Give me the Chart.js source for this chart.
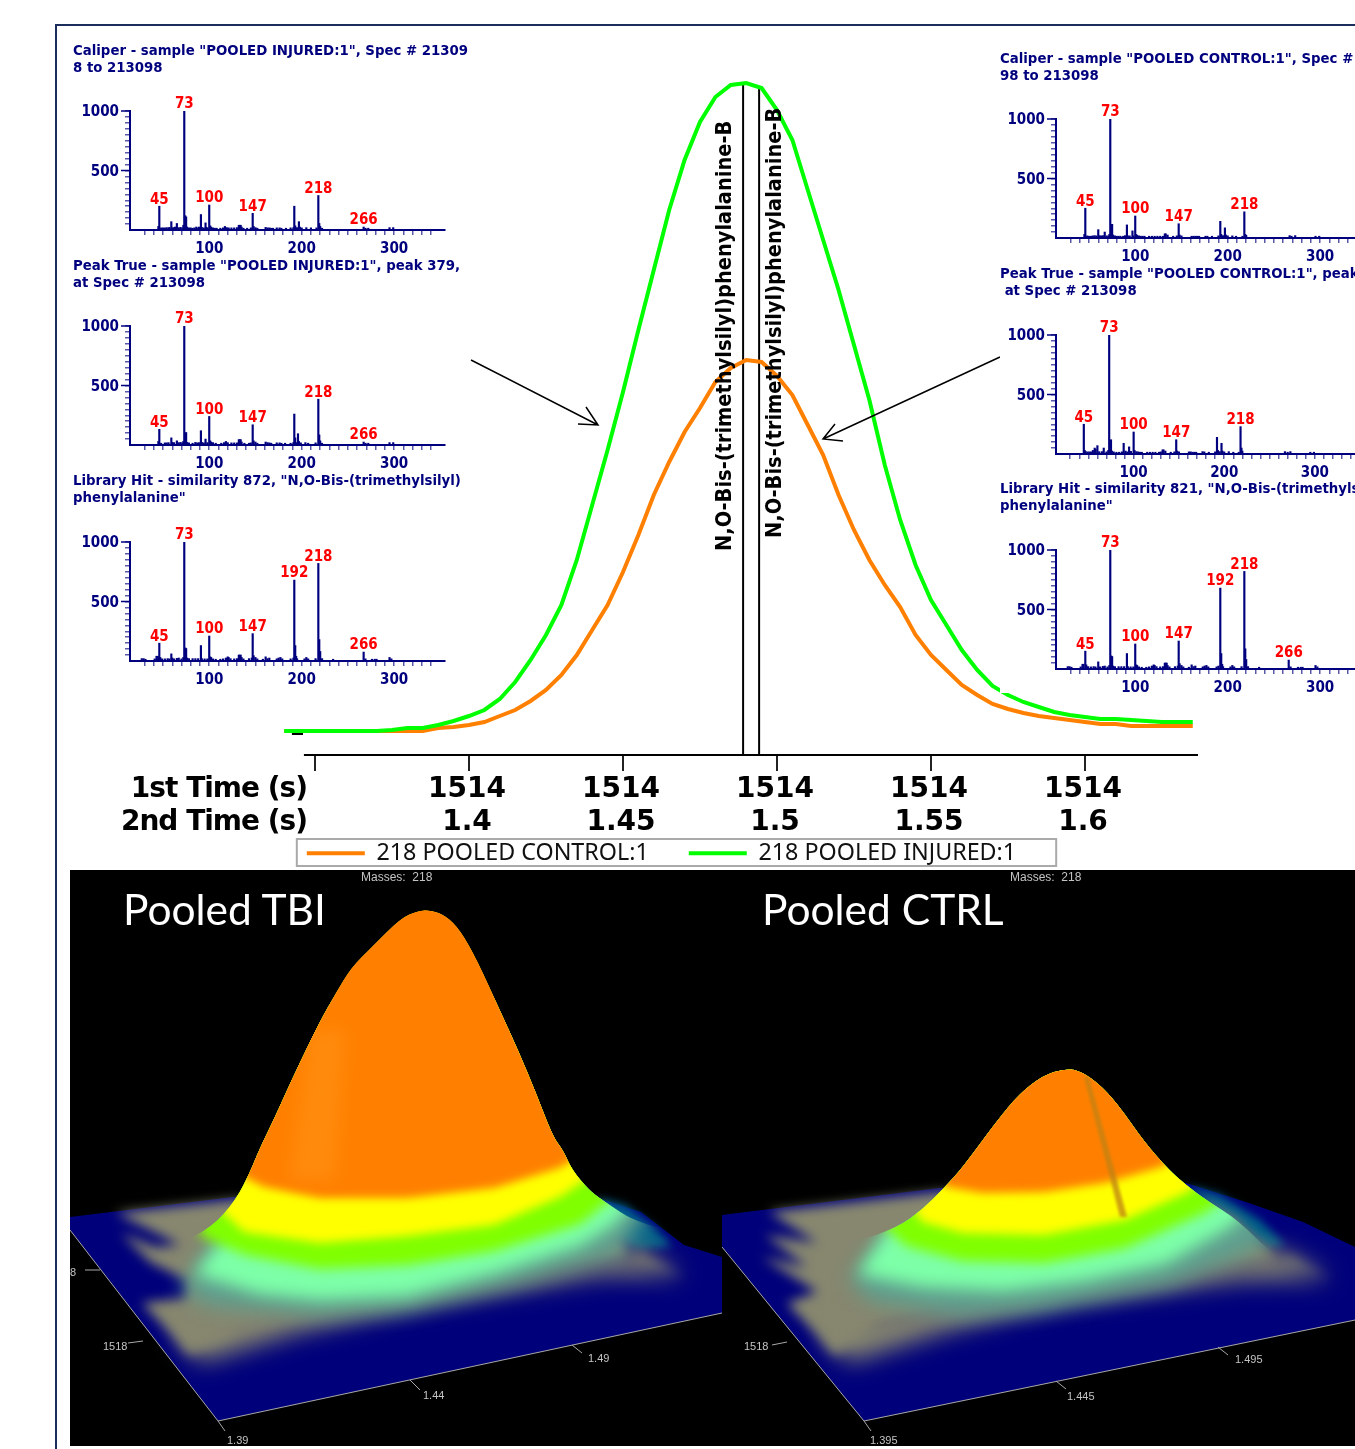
<!DOCTYPE html>
<html>
<head>
<meta charset="utf-8">
<title>N,O-Bis-(trimethylsilyl)phenylalanine peak</title>
<script src="https://cdn.jsdelivr.net/npm/chart.js@4"></script>
<style>
html, body { margin: 0; padding: 0; background: #fff; }
#page { position: relative; width: 1355px; height: 1449px; overflow: hidden; background: #fff; }
#page canvas { position: absolute; }
.frame { position: absolute; background: #1b2d5b; }
.title { position: absolute; white-space: nowrap; color: #00007f; font: bold 14.8px/17px 'DejaVu Sans Condensed', 'DejaVu Sans', sans-serif; }
.time { position: absolute; right: 1048px; white-space: nowrap; color: #000; font: bold 28px/33px 'DejaVu Sans', sans-serif; letter-spacing: -1px; }
.surfaceName { position: absolute; color: #fff; font: 42.5px/50px Lato, sans-serif; white-space: nowrap; }
.surfaceText { position: absolute; color: #c4c4c4; font: 11px/13px 'Liberation Sans', sans-serif; white-space: nowrap; }
</style>
</head>
<body>
<div id="page">
  <canvas id="peakChart" width="1323" height="875" style="left:0;top:0"></canvas>
  <svg width="1355" height="700" style="position:absolute;left:0;top:0">
    <g fill="none" stroke="#000" stroke-width="1.5">
      <path d="M471 360L598 425M578 424L598 425L586 407"/>
      <path d="M1000 357L823 439M835 424L823 439L843 441"/>
    </g>
  </svg>
  <div style="position:absolute;left:1000px;top:40px;width:355px;height:653px;background:#fff"></div>
  <div class="frame" style="left:55px;top:24px;width:1300px;height:2px"></div>
  <div class="frame" style="left:55px;top:24px;width:2px;height:1425px"></div>

  <div class="time" style="top:771px">1st Time (s)</div>
  <div class="time" style="top:804px">2nd Time (s)</div>

  <div style="position:absolute;left:70px;top:870px;width:1285px;height:576px;background:#000"></div>
  <canvas id="tbiSurface" width="652" height="576" style="left:70px;top:870px"></canvas>
  <canvas id="ctrlSurface" width="633" height="576" style="left:722px;top:870px"></canvas>

  <div class="surfaceName" style="left:123px;top:884px">Pooled TBI</div>
  <div class="surfaceName" style="left:762px;top:884px">Pooled CTRL</div>
  <div class="surfaceText" style="left:361px;top:871px;font-size:12px">Masses:&nbsp; 218</div>
  <div class="surfaceText" style="left:1010px;top:871px;font-size:12px">Masses:&nbsp; 218</div>
  <div class="surfaceText" style="left:70px;top:1266px">8</div>
  <div class="surfaceText" style="left:103px;top:1340px">1518</div>
  <div class="surfaceText" style="left:227px;top:1434px">1.39</div>
  <div class="surfaceText" style="left:423px;top:1389px">1.44</div>
  <div class="surfaceText" style="left:588px;top:1352px">1.49</div>
  <div class="surfaceText" style="left:744px;top:1340px">1518</div>
  <div class="surfaceText" style="left:870px;top:1434px">1.395</div>
  <div class="surfaceText" style="left:1067px;top:1390px">1.445</div>
  <div class="surfaceText" style="left:1235px;top:1353px">1.495</div>

  <div class="title" style="left:73px;top:41px">Caliper - sample "POOLED INJURED:1", Spec # 21309<br>8 to 213098</div>
  <div class="title" style="left:73px;top:256px">Peak True - sample "POOLED INJURED:1", peak 379,<br>at Spec # 213098</div>
  <div class="title" style="left:73px;top:471px">Library Hit - similarity 872, "N,O-Bis-(trimethylsilyl)<br>phenylalanine"</div>
  <div class="title" style="left:1000px;top:49px">Caliper - sample "POOLED CONTROL:1", Spec # 2130<br>98 to 213098</div>
  <div class="title" style="left:1000px;top:264px">Peak True - sample "POOLED CONTROL:1", peak<br>&nbsp;at Spec # 213098</div>
  <div class="title" style="left:1000px;top:479px">Library Hit - similarity 821, "N,O-Bis-(trimethylsilyl)<br>phenylalanine"</div>

  <canvas id="specA" width="400" height="171" style="left:70px;top:89px"></canvas>
  <canvas id="specB" width="400" height="171" style="left:70px;top:304px"></canvas>
  <canvas id="specC" width="400" height="171" style="left:70px;top:520px"></canvas>
  <canvas id="specD" width="400" height="171" style="left:996px;top:97px"></canvas>
  <canvas id="specE" width="400" height="171" style="left:996px;top:313px"></canvas>
  <canvas id="specF" width="400" height="171" style="left:996px;top:528px"></canvas>
</div>

<script>
// main chromatogram: 2nd dimension time (s) and relative signal of m/z 218
const secondTimes = [1.34, 1.345, 1.35, 1.355, 1.36, 1.365, 1.37, 1.375, 1.38, 1.385,
    1.39, 1.395, 1.4, 1.405, 1.41, 1.415, 1.42, 1.425, 1.43, 1.435,
    1.44, 1.445, 1.45, 1.455, 1.46, 1.465, 1.47, 1.475, 1.48, 1.485,
    1.49, 1.495, 1.5, 1.505, 1.51, 1.515, 1.52, 1.525, 1.53, 1.535,
    1.54, 1.545, 1.55, 1.555, 1.56, 1.565, 1.57, 1.575, 1.58, 1.585,
    1.59, 1.595, 1.6, 1.605, 1.61, 1.615, 1.62, 1.625, 1.63, 1.635];
const controlTrace = [0, 0, 0, 0, 0, 0, 0, 0, 0, 0,
    3, 4, 6, 9, 15, 21, 30, 41, 56, 76,
    101, 126, 159, 196, 236, 269, 299, 323, 349, 363,
    371, 369, 355, 336, 306, 276, 236, 201, 171, 146,
    124, 96, 76, 61, 46, 36, 27, 22, 18, 15,
    13, 11, 9, 7, 7, 5, 5, 5, 5, 5];
const injuredTrace = [0, 0, 0, 0, 0, 0, 0, 1, 3, 3,
    6, 10, 15, 21, 32, 49, 71, 96, 126, 171,
    226, 281, 339, 401, 461, 521, 571, 609, 634, 646,
    648, 643, 621, 591, 541, 491, 441, 386, 331, 266,
    211, 166, 131, 106, 81, 61, 45, 36, 29, 24,
    19, 16, 14, 12, 12, 11, 10, 9, 9, 9];
const seriesNames = ['218 POOLED CONTROL:1', '218 POOLED INJURED:1'];
const tickTimes = [1.35, 1.4, 1.45, 1.5, 1.55, 1.6];
const tickLabels = ['', '1.4', '1.45', '1.5', '1.55', '1.6'];
const firstTimeLabel = '1514';
const markerTimes = [1.489, 1.4942];
const markerTops = [646, 642];
const markerName = 'N,O-Bis-(trimethylsilyl)phenylalanine-B';
const axisSpan = [1.3464, 1.6367];

// spectra: m/z and intensity
const caliperInjuredMz = [45, 46, 48, 50, 52, 54, 56, 57, 59, 60, 62, 63, 65, 67, 69, 71, 72, 73, 74, 75, 76, 78, 80, 82, 84, 86, 88, 89, 91, 92, 94, 96, 97, 98, 100, 101, 102, 104, 106, 108, 112, 115, 117, 119, 121, 124, 127, 130, 132, 133, 134, 135, 137, 141, 145, 147, 148, 150, 152, 161, 163, 165, 167, 169, 173, 176, 178, 183, 188, 191, 192, 193, 195, 197, 198, 200, 205, 210, 216, 218, 219, 220, 222, 267, 269, 272, 295, 299];
const caliperInjuredInt = [30, 200, 18, 18, 18, 20, 18, 22, 70, 20, 20, 25, 55, 20, 22, 18, 40, 1000, 120, 110, 25, 18, 18, 15, 18, 25, 18, 25, 130, 22, 18, 60, 22, 18, 210, 35, 25, 18, 15, 15, 15, 18, 30, 20, 18, 18, 18, 20, 40, 40, 40, 25, 15, 15, 18, 140, 30, 20, 15, 22, 18, 18, 15, 15, 18, 18, 15, 15, 18, 20, 200, 35, 20, 70, 25, 18, 20, 18, 18, 290, 55, 30, 15, 25, 15, 15, 20, 20];
const peakInjuredMz = [45, 46, 48, 52, 54, 56, 59, 60, 62, 65, 67, 69, 71, 72, 73, 74, 75, 76, 78, 82, 85, 87, 89, 91, 92, 94, 96, 98, 100, 101, 102, 104, 107, 113, 116, 118, 120, 124, 127, 130, 132, 133, 134, 135, 138, 143, 145, 147, 148, 150, 152, 161, 163, 165, 167, 173, 176, 178, 182, 188, 191, 192, 193, 195, 196, 197, 199, 204, 207, 215, 218, 219, 220, 222, 267, 269, 272, 295, 299];
const peakInjuredInt = [30, 132, 15, 18, 18, 20, 60, 22, 20, 35, 20, 22, 18, 30, 1000, 100, 105, 22, 18, 15, 22, 18, 20, 120, 22, 18, 50, 20, 240, 35, 25, 20, 15, 15, 20, 30, 20, 18, 18, 18, 45, 45, 45, 25, 15, 15, 18, 170, 35, 25, 15, 25, 20, 18, 15, 18, 18, 15, 15, 15, 20, 260, 60, 20, 95, 30, 18, 20, 15, 18, 385, 85, 35, 15, 25, 15, 15, 20, 20];
const libraryInjuredMz = [27, 29, 31, 41, 43, 44, 45, 46, 47, 49, 52, 55, 57, 59, 60, 62, 65, 67, 70, 72, 73, 74, 75, 76, 78, 82, 85, 88, 91, 92, 95, 98, 100, 101, 102, 104, 107, 112, 115, 118, 120, 121, 123, 127, 130, 132, 133, 134, 135, 137, 143, 146, 147, 148, 150, 152, 158, 161, 163, 165, 173, 175, 177, 179, 188, 191, 192, 193, 194, 195, 203, 205, 207, 215, 218, 219, 220, 222, 234, 267, 269, 276, 279, 281, 295, 297];
const libraryInjuredInt = [20, 20, 15, 18, 40, 40, 35, 150, 30, 18, 18, 20, 18, 60, 25, 18, 22, 25, 18, 30, 1000, 110, 105, 25, 20, 20, 20, 20, 130, 20, 18, 18, 210, 35, 30, 18, 15, 15, 18, 25, 35, 30, 20, 18, 20, 50, 50, 50, 30, 18, 20, 25, 230, 45, 30, 18, 15, 35, 20, 25, 18, 25, 30, 18, 18, 25, 680, 130, 40, 20, 18, 30, 18, 20, 820, 180, 80, 20, 15, 75, 18, 15, 15, 15, 30, 18];
const caliperControlMz = [45, 46, 48, 50, 52, 54, 56, 58, 60, 61, 63, 65, 67, 69, 71, 72, 73, 74, 75, 76, 78, 80, 82, 84, 87, 89, 91, 92, 94, 97, 98, 100, 101, 102, 104, 106, 108, 110, 115, 118, 121, 124, 127, 130, 132, 133, 135, 141, 145, 147, 148, 150, 161, 163, 165, 167, 169, 176, 178, 183, 190, 192, 193, 195, 197, 198, 200, 205, 209, 216, 218, 219, 220, 267, 269, 273, 295, 299];
const caliperControlInt = [30, 250, 18, 15, 15, 18, 20, 18, 70, 20, 18, 20, 50, 18, 18, 30, 1000, 115, 115, 25, 18, 15, 15, 15, 15, 20, 110, 18, 18, 60, 18, 185, 30, 22, 18, 15, 15, 15, 15, 15, 15, 15, 15, 15, 35, 35, 25, 15, 18, 120, 25, 18, 15, 15, 15, 15, 15, 15, 15, 15, 18, 140, 30, 20, 85, 25, 18, 18, 15, 15, 220, 30, 22, 20, 15, 20, 15, 15];
const peakControlMz = [45, 46, 47, 49, 51, 53, 55, 57, 58, 60, 62, 65, 67, 70, 72, 73, 74, 75, 76, 78, 81, 84, 87, 89, 91, 93, 95, 97, 100, 101, 103, 105, 107, 109, 115, 118, 121, 124, 128, 130, 132, 133, 135, 141, 145, 147, 148, 150, 161, 163, 165, 167, 169, 176, 178, 183, 190, 192, 193, 195, 197, 198, 200, 205, 210, 216, 218, 219, 220, 267, 270, 273, 295, 299];
const peakControlInt = [250, 30, 20, 18, 18, 18, 30, 50, 40, 70, 20, 20, 50, 18, 30, 1000, 110, 120, 25, 18, 15, 15, 18, 90, 25, 18, 60, 22, 185, 30, 20, 18, 15, 15, 15, 15, 15, 15, 15, 18, 35, 35, 25, 15, 18, 120, 25, 18, 18, 18, 15, 15, 15, 20, 18, 15, 18, 140, 30, 20, 90, 25, 18, 20, 15, 15, 230, 50, 25, 20, 15, 20, 15, 15];
const libraryControlMz = [27, 29, 31, 41, 43, 44, 46, 47, 49, 52, 55, 57, 60, 62, 65, 67, 70, 72, 73, 74, 75, 76, 78, 82, 85, 88, 91, 92, 95, 98, 100, 101, 102, 104, 107, 112, 115, 118, 120, 121, 123, 127, 130, 132, 133, 134, 135, 137, 143, 146, 147, 148, 150, 152, 158, 161, 163, 165, 173, 175, 177, 179, 188, 190, 192, 193, 194, 195, 203, 205, 207, 215, 218, 219, 220, 222, 234, 266, 268, 276, 279, 281, 295, 297];
const libraryControlInt = [20, 20, 15, 18, 40, 40, 150, 35, 20, 18, 20, 18, 60, 18, 22, 25, 18, 30, 1000, 110, 105, 25, 20, 20, 20, 20, 130, 20, 18, 18, 210, 35, 30, 18, 15, 15, 18, 25, 35, 30, 20, 18, 20, 50, 50, 50, 30, 18, 20, 25, 235, 45, 30, 18, 15, 35, 20, 25, 18, 25, 30, 18, 18, 25, 680, 130, 40, 20, 18, 30, 18, 20, 820, 170, 80, 20, 15, 75, 18, 15, 15, 15, 30, 18];
// peak bar to label, and the nominal mass written on it
const labelledPeaksA = [46, 73, 100, 147, 218, 267];
const labelledPeaksC = [46, 73, 100, 147, 192, 218, 267];
const labelledPeaksD = [46, 73, 100, 147, 218];
const labelledPeaksE = [45, 73, 100, 147, 218];
const labelledPeaksF = [46, 73, 100, 147, 192, 218, 266];
const nominalMasses = [45, 73, 100, 147, 192, 218, 266];

// 3D surfaces, as [across, up the view]
const tbiFloor = [[70, 1217], [233, 1197], [598, 1198], [641, 1212], [684, 1245], [722, 1257], [722, 1313], [218, 1421], [70, 1230]];
const tbiTeal = [[598, 1198], [625, 1205], [655, 1228], [672, 1246], [640, 1250], [612, 1235]];
const tbiSkirt = [[116, 1213], [233, 1200], [600, 1205], [628, 1256], [684, 1278], [640, 1254], [420, 1285], [240, 1330], [190, 1355], [142, 1303], [185, 1298], [190, 1282], [150, 1262], [121, 1233], [155, 1247], [180, 1245]];
const tbiFade = [[175, 1335], [201, 1362], [300, 1332], [420, 1305], [600, 1275], [684, 1275], [640, 1250], [400, 1275], [200, 1320]];
const tbiMid = [[180, 1289], [210, 1306], [320, 1316], [407, 1310], [520, 1283], [620, 1254], [650, 1210], [650, 1000], [300, 1000], [225, 1225]];
const tbiMint = [[195, 1274], [260, 1294], [320, 1300], [407, 1296], [500, 1272], [580, 1246], [615, 1224], [640, 1195], [640, 1000], [270, 1000], [235, 1220]];
const tbiGreen = [[200, 1236], [246, 1255], [320, 1269], [407, 1265], [494, 1251], [580, 1224], [620, 1192], [620, 1000], [200, 1000]];
const tbiYellow = [[215, 1205], [244, 1232], [320, 1243], [407, 1236], [494, 1225], [560, 1197], [600, 1170], [600, 900], [215, 900]];
const tbiOrange = [[230, 1170], [264, 1187], [320, 1198], [407, 1198], [494, 1188], [559, 1168], [590, 1150], [590, 900], [230, 900]];
const tbiGlow = [[310, 1030], [345, 1030], [335, 1180], [290, 1180]];
const tbiOutline = [[155, 1248], [177, 1245], [212, 1227], [236, 1200], [251, 1170], [259, 1150], [275, 1117], [293, 1077], [319, 1023], [336, 993], [351, 968], [371, 948], [401, 918], [418, 911], [431, 910], [446, 916], [460, 930], [477, 960], [501, 1013], [518, 1050], [536, 1093], [553, 1137], [563, 1150], [572, 1170], [589, 1190], [602, 1200], [640, 1225], [722, 1240], [722, 1446], [722, 1446], [70, 1446], [70, 1446], [160, 1275]];
const tbiAxes = [[70, 1230], [218, 1421], [722, 1313], [NaN, NaN], [218, 1421], [225, 1431], [NaN, NaN], [410, 1380], [420, 1390], [NaN, NaN], [572, 1345], [582, 1353], [NaN, NaN], [128, 1343], [143, 1341], [NaN, NaN], [85, 1270], [100, 1270]];

const ctrlFloor = [[722, 1215], [939, 1188], [1186, 1183], [1246, 1202], [1303, 1222], [1355, 1247], [1355, 1320], [864, 1421], [722, 1247]];
const ctrlTeal = [[1186, 1185], [1220, 1195], [1260, 1220], [1285, 1245], [1265, 1250], [1220, 1215]];
const ctrlSkirt = [[769, 1212], [939, 1192], [1206, 1203], [1234, 1217], [1275, 1257], [1331, 1280], [1290, 1258], [1040, 1285], [880, 1325], [835, 1355], [787, 1303], [817, 1292], [762, 1257], [807, 1267], [765, 1235], [817, 1243]];
const ctrlFade = [[820, 1335], [850, 1362], [950, 1330], [1060, 1303], [1240, 1280], [1331, 1278], [1280, 1250], [1040, 1275], [850, 1320]];
const ctrlMid = [[850, 1279], [870, 1301], [960, 1316], [1040, 1310], [1170, 1285], [1260, 1249], [1280, 1215], [1280, 1000], [1000, 1000], [890, 1225]];
const ctrlMint = [[858, 1274], [922, 1287], [1003, 1291], [1084, 1281], [1165, 1264], [1234, 1225], [1255, 1200], [1255, 1000], [1000, 1000], [890, 1225]];
const ctrlGreen = [[880, 1222], [906, 1246], [963, 1261], [1044, 1263], [1125, 1248], [1206, 1212], [1240, 1187], [1240, 1000], [880, 1000]];
const ctrlYellow = [[905, 1195], [922, 1222], [963, 1233], [1044, 1235], [1125, 1220], [1186, 1193], [1220, 1170], [1220, 1000], [905, 1000]];
const ctrlOrange = [[930, 1170], [947, 1187], [983, 1193], [1044, 1192], [1105, 1183], [1161, 1167], [1190, 1150], [1190, 1000], [930, 1000]];
const ctrlStreak = [[1084, 1077], [1089, 1077], [1127, 1217], [1120, 1217]];
const ctrlOutline = [[821, 1247], [862, 1240], [898, 1227], [922, 1210], [945, 1187], [963, 1167], [996, 1122], [1020, 1093], [1044, 1075], [1064, 1069], [1078, 1070], [1097, 1082], [1117, 1103], [1145, 1143], [1169, 1170], [1186, 1185], [1206, 1200], [1238, 1220], [1275, 1257], [1355, 1300], [1355, 1446], [1355, 1446], [722, 1446], [722, 1446], [830, 1275]];
const ctrlAxes = [[722, 1247], [864, 1421], [1355, 1320], [NaN, NaN], [864, 1421], [871, 1431], [NaN, NaN], [1056, 1381], [1066, 1389], [NaN, NaN], [1218, 1347], [1228, 1355], [NaN, NaN], [772, 1345], [787, 1342]];

Chart.defaults.animation = false;
Chart.defaults.responsive = false;
Chart.defaults.plugins.tooltip.enabled = false;

const condensed = "'DejaVu Sans Condensed', 'DejaVu Sans', sans-serif";
const navy = '#00007f';

// blur and silhouette clip for the surface layers, has to run before the filler does
const surfaceEffects = {
    id: 'surfaceEffects',
    beforeDatasetDraw(chart, args) {
        const ds = chart.data.datasets[args.index];
        if (!ds.blur && !ds.outline) return;
        const ctx = chart.ctx;
        ctx.save();
        if (ds.outline) {
            const pts = ds.outline.map(p => [chart.scales.x.getPixelForValue(p[0]), chart.scales.y.getPixelForValue(p[1])]);
            ctx.beginPath();
            ctx.moveTo(pts[0][0], pts[0][1]);
            for (let i = 1; i < pts.length - 1; i++) {
                ctx.quadraticCurveTo(pts[i][0], pts[i][1], (pts[i][0] + pts[i + 1][0]) / 2, (pts[i][1] + pts[i + 1][1]) / 2);
            }
            ctx.closePath();
            ctx.clip();
        }
        if (ds.blur) ctx.filter = `blur(${ds.blur}px)`;
    },
    afterDatasetDraw(chart, args) {
        const ds = chart.data.datasets[args.index];
        if (ds.blur || ds.outline) chart.ctx.restore();
    }
};
Chart.unregister(Chart.Filler);
Chart.register(surfaceEffects, Chart.Filler);

// main chart
const markerLabels = {
    id: 'markerLabels',
    afterDatasetsDraw(chart) {
        const ctx = chart.ctx;
        const x = chart.scales.x;
        const spots = [[-18, 551], [16, 538]];
        ctx.save();
        ctx.fillStyle = '#000';
        ctx.font = `bold 21.6px ${condensed}`;
        ctx.textAlign = 'left';
        ctx.textBaseline = 'middle';
        markerTimes.forEach((t, i) => {
            ctx.save();
            ctx.translate(x.getPixelForValue(t) + spots[i][0], spots[i][1]);
            ctx.rotate(-Math.PI / 2);
            ctx.fillText(markerName, 0, 0);
            ctx.restore();
        });
        ctx.restore();
    }
};
const legendFrame = {
    id: 'legendFrame',
    // the two line tick labels run past the scale box, which would clip them
    afterLayout(chart) {
        chart.scales.x.bottom = chart.height;
    },
    afterDraw(chart) {
        const boxes = chart.legend.legendHitBoxes;
        const last = boxes[boxes.length - 1];
        const ctx = chart.ctx;
        ctx.save();
        ctx.strokeStyle = '#aaaaaa';
        ctx.lineWidth = 2;
        ctx.strokeRect(boxes[0].left - 10, 839, last.left + last.width + 40 - boxes[0].left + 10, 27);
        ctx.restore();
    }
};

const pairUp = (xs, ys) => xs.map((x, i) => ({x: x, y: ys[i]}));
const hiddenAxis = {ticks: {display: false}, grid: {display: false}, border: {display: false}};

new Chart(document.getElementById('peakChart'), {
    type: 'line',
    data: {
        datasets: [
            {label: seriesNames[0], data: pairUp(secondTimes, controlTrace), borderColor: '#ff8000', backgroundColor: '#ff8000', borderWidth: 4, pointRadius: 0, tension: 0, clip: false, order: 1},
            {label: seriesNames[1], data: pairUp(secondTimes, injuredTrace), borderColor: '#00ff00', backgroundColor: '#00ff00', borderWidth: 4, pointRadius: 0, tension: 0, clip: false, order: 0},
            {label: 'marker', data: [{x: markerTimes[0], y: -24}, {x: markerTimes[0], y: markerTops[0]}], borderColor: '#000', borderWidth: 2, pointRadius: 0, order: 2},
            {label: 'marker', data: [{x: markerTimes[1], y: -24}, {x: markerTimes[1], y: markerTops[1]}], borderColor: '#000', borderWidth: 2, pointRadius: 0, order: 2},
            {label: 'marker', data: [{x: 1.3425, y: -3}, {x: 1.3461, y: -3}], borderColor: '#000', borderWidth: 2, pointRadius: 0, clip: false, order: 2},
            {label: 'marker', data: [{x: axisSpan[0], y: -24}, {x: axisSpan[1], y: -24}], borderColor: '#000', borderWidth: 2, pointRadius: 0, clip: false, order: 2}
        ]
    },
    options: {
        layout: {padding: {top: 60}},
        plugins: {
            legend: {
                position: 'bottom',
                labels: {
                    filter: item => item.text !== 'marker',
                    sort: (a, b) => a.datasetIndex - b.datasetIndex,
                    usePointStyle: true,
                    pointStyle: 'line',
                    pointStyleWidth: 58,
                    padding: 40,
                    color: '#111',
                    font: {family: "'Noto Sans', sans-serif", size: 23.3}
                }
            }
        },
        scales: {
            x: {
                type: 'linear',
                min: 1.33961,
                max: 1.6367,
                afterBuildTicks: s => { s.ticks = tickTimes.map(v => ({value: v})); },
                afterFit: s => { s.height = s.chart.height - s.chart.legend.height - 755; },
                grid: {drawOnChartArea: false, tickLength: 16, color: '#222', lineWidth: 2},
                border: {display: false},
                ticks: {
                    autoSkip: false,
                    maxRotation: 0,
                    padding: 2,
                    labelOffset: -2,
                    color: '#000',
                    font: {family: "'DejaVu Sans', sans-serif", weight: 'bold', size: 28, lineHeight: 1.18},
                    callback: (v, i) => tickLabels[i] ? [firstTimeLabel, tickLabels[i]] : ''
                }
            },
            y: {...hiddenAxis, position: 'left', min: -24, max: 671, afterFit: s => { s.width = 283; }},
            yRight: {...hiddenAxis, type: 'linear', position: 'right', afterFit: s => { s.width = 125; }}
        }
    },
    plugins: [markerLabels, legendFrame]
});

// mass spectra
const spectrumMarks = {
    id: 'spectrumMarks',
    afterDatasetsDraw(chart, args, opts) {
        const ctx = chart.ctx;
        const {x, y} = chart.scales;
        const pts = chart.data.datasets[0].data;
        ctx.save();
        ctx.fillStyle = '#ff0000';
        ctx.font = `bold 15px ${condensed}`;
        ctx.textAlign = 'center';
        ctx.textBaseline = 'bottom';
        opts.peaks.forEach(m => {
            const p = pts.find(q => q.x === m);
            const text = nominalMasses.reduce((a, b) => Math.abs(b - m) < Math.abs(a - m) ? b : a);
            ctx.fillText(String(text), x.getPixelForValue(m), y.getPixelForValue(p.y) + 1);
        });
        // 500 and 1000 carry a longer tick
        ctx.strokeStyle = navy;
        ctx.lineWidth = 1.5;
        [500, 1000].forEach(v => {
            const py = y.getPixelForValue(v);
            ctx.beginPath();
            ctx.moveTo(x.left - 9, py);
            ctx.lineTo(x.left, py);
            ctx.stroke();
        });
        ctx.restore();
    }
};

function drawSpectrum(id, mz, intensity, peaks, xMax) {
    const font = {family: condensed, weight: 'bold', size: 15};
    new Chart(document.getElementById(id), {
        type: 'bar',
        data: {datasets: [{data: pairUp(mz, intensity), backgroundColor: navy, barThickness: 1.5}]},
        options: {
            layout: {padding: {top: 22, right: 25}},
            plugins: {legend: {display: false}, spectrumMarks: {peaks: peaks}},
            scales: {
                x: {
                    type: 'linear',
                    min: 14.3,
                    max: xMax,
                    offset: false,
                    afterBuildTicks: s => { s.ticks = s.ticks.filter(t => t.value % 10 === 0); },
                    afterFit: s => { s.height = 30; },
                    grid: {drawOnChartArea: false, offset: false, tickLength: 5, color: 'rgba(0,0,127,0.65)', lineWidth: 1.5},
                    border: {color: navy, width: 2},
                    ticks: {stepSize: 10, autoSkip: false, maxRotation: 0, padding: 5, color: navy, font: font, callback: v => v % 100 === 0 ? v : ''}
                },
                y: {
                    min: 0,
                    max: 1000,
                    afterBuildTicks: s => { s.ticks = s.ticks.filter(t => t.value > 0); },
                    afterFit: s => { s.width = 60; },
                    grid: {drawOnChartArea: false, tickLength: 5, color: 'rgba(0,0,127,0.65)', lineWidth: 1.5},
                    border: {color: navy, width: 2},
                    ticks: {stepSize: 50, autoSkip: false, padding: 6, labelOffset: 1.5, color: navy, font: font, callback: v => (v === 500 || v === 1000) ? v : ''}
                }
            }
        },
        plugins: [spectrumMarks]
    });
}

drawSpectrum('specA', caliperInjuredMz, caliperInjuredInt, labelledPeaksA, 355);
drawSpectrum('specB', peakInjuredMz, peakInjuredInt, labelledPeaksA, 355);
drawSpectrum('specC', libraryInjuredMz, libraryInjuredInt, labelledPeaksC, 355);
drawSpectrum('specD', caliperControlMz, caliperControlInt, labelledPeaksD, 355);
drawSpectrum('specE', peakControlMz, peakControlInt, labelledPeaksE, 362);
drawSpectrum('specF', libraryControlMz, libraryControlInt, labelledPeaksF, 355);

// surfaces
function drawSurface(id, xRange, layers, axes, outline) {
    const toPoints = list => list.map(p => ({x: p[0], y: p[1]}));
    const datasets = layers.map((l, i) => ({
        data: toPoints(l.shape),
        fill: 'shape',
        backgroundColor: l.color,
        borderWidth: 0,
        pointRadius: 0,
        tension: 0,
        blur: l.blur,
        outline: l.clipped ? outline : null,
        order: layers.length - i + 1
    }));
    datasets.push({data: toPoints(axes), borderColor: '#a8a8a8', borderWidth: 1, pointRadius: 0, fill: false, order: 0});
    new Chart(document.getElementById(id), {
        type: 'line',
        data: {datasets: datasets},
        options: {
            plugins: {legend: {display: false}},
            scales: {
                x: {type: 'linear', display: false, min: xRange[0], max: xRange[1]},
                y: {type: 'linear', display: false, reverse: true, min: 870, max: 1446}
            }
        }
    });
}

drawSurface('tbiSurface', [70, 722], [
    {shape: tbiFloor, color: '#00007b'},
    {shape: tbiTeal, color: '#00608a', blur: 4},
    {shape: tbiSkirt, color: '#87876f', blur: 6},
    {shape: tbiFade, color: '#87876f', blur: 12},
    {shape: tbiMid, color: '#5fa08f', blur: 10, clipped: true},
    {shape: tbiMint, color: '#7dffa8', blur: 8, clipped: true},
    {shape: tbiGreen, color: '#80ff00', blur: 6, clipped: true},
    {shape: tbiYellow, color: '#ffff00', blur: 5, clipped: true},
    {shape: tbiOrange, color: '#ff8000', blur: 4, clipped: true},
    {shape: tbiGlow, color: '#ff8a0c', blur: 8, clipped: true}
], tbiAxes, tbiOutline);

drawSurface('ctrlSurface', [722, 1355], [
    {shape: ctrlFloor, color: '#00007b'},
    {shape: ctrlTeal, color: '#00608a', blur: 4},
    {shape: ctrlSkirt, color: '#87876f', blur: 6},
    {shape: ctrlFade, color: '#87876f', blur: 12},
    {shape: ctrlMid, color: '#5fa08f', blur: 10, clipped: true},
    {shape: ctrlMint, color: '#7dffa8', blur: 8, clipped: true},
    {shape: ctrlGreen, color: '#80ff00', blur: 6, clipped: true},
    {shape: ctrlYellow, color: '#ffff00', blur: 5, clipped: true},
    {shape: ctrlOrange, color: '#ff8000', blur: 4, clipped: true},
    {shape: ctrlStreak, color: 'rgba(190,130,20,0.75)', blur: 1.5, clipped: true}
], ctrlAxes, ctrlOutline);
</script>
</body>
</html>
